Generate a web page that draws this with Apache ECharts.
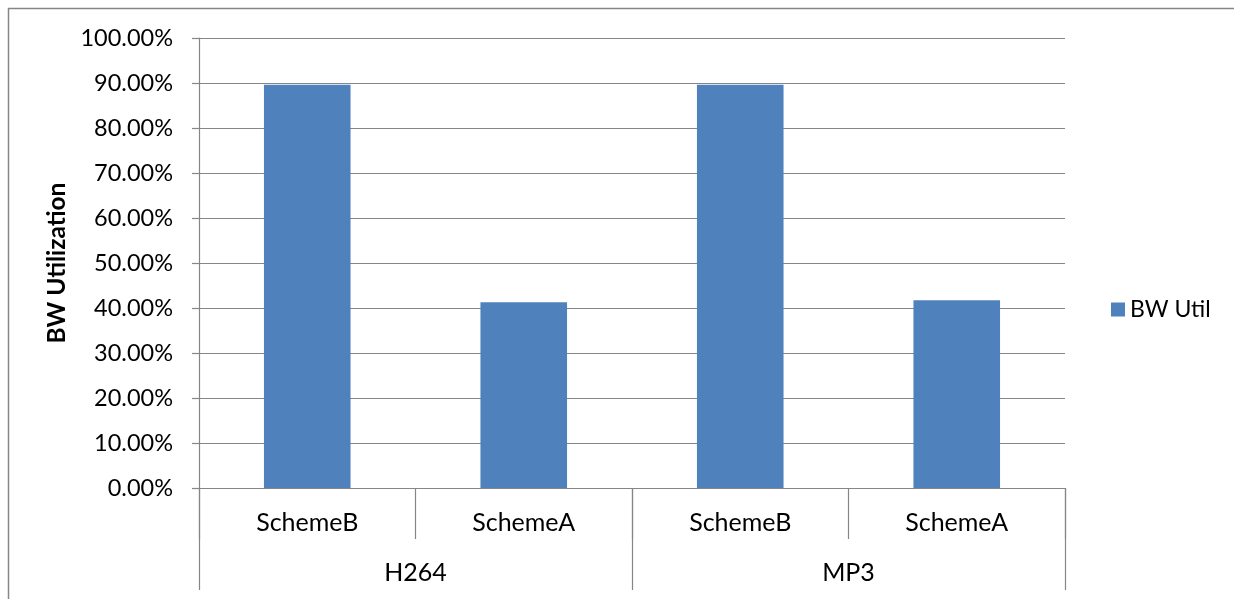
<!DOCTYPE html>
<html>
<head>
<meta charset="utf-8">
<script src="https://cdn.jsdelivr.net/npm/echarts@6/dist/echarts.min.js"></script>
<style>
  html, body { margin: 0; padding: 0; background: #fff; }
  #chart { width: 1234px; height: 599px; }
</style>
</head>
<body>
<div id="chart"></div>
<script>
// Bandwidth utilization per scheme, grouped by workload
const schemes = ['SchemeB', 'SchemeA', 'SchemeB', 'SchemeA'];
const workloads = ['H264', 'MP3'];
const bwUtil = [89.6, 41.3, 89.6, 41.7];
const seriesName = 'BW Util';
const yTicks = { min: 0, max: 100, interval: 10 };

const gray = '#868686';
const font = 'Lato, "Noto Sans", sans-serif';

const chart = echarts.init(document.getElementById('chart'));
chart.setOption({
  animation: false,
  backgroundColor: '#fff',
  grid: { left: 199, right: 169, top: 38, bottom: 111, containLabel: false },
  legend: {
    data: [seriesName],
    left: 1106,
    top: 293,
    orient: 'vertical',
    icon: 'rect',
    itemWidth: 14,
    itemHeight: 14,
    itemGap: 8,
    textStyle: { fontFamily: font, fontSize: 23, color: '#000' }
  },
  xAxis: [
    {
      type: 'category',
      data: schemes,
      position: 'bottom',
      axisLine: { show: true, lineStyle: { color: gray, width: 1.2 } },
      axisTick: { show: true, interval: 0, length: 51, lineStyle: { color: gray, width: 1.2 } },
      axisLabel: { interval: 0, margin: 22, fontFamily: font, fontSize: 25, color: '#000' },
      splitLine: { show: false }
    },
    {
      type: 'category',
      data: workloads,
      position: 'bottom',
      axisLine: { show: false },
      axisTick: { show: true, interval: 0, length: 102, lineStyle: { color: gray, width: 1.2 } },
      axisLabel: { interval: 0, margin: 72, fontFamily: font, fontSize: 25, color: '#000' },
      splitLine: { show: false }
    }
  ],
  yAxis: {
    type: 'value',
    min: yTicks.min,
    max: yTicks.max,
    interval: yTicks.interval,
    name: 'BW Utilization',
    nameLocation: 'middle',
    nameGap: 127,
    nameRotate: 90,
    nameTextStyle: { fontFamily: font, fontSize: 24.5, fontWeight: 'bold', color: '#000' },
    axisLine: { show: true, lineStyle: { color: gray, width: 1.2 } },
    axisTick: { show: true, length: 7, lineStyle: { color: gray, width: 1.2 } },
    axisLabel: {
      margin: 26,
      fontFamily: font,
      fontSize: 23.5,
      color: '#000',
      formatter: v => v.toFixed(2) + '%'
    },
    splitLine: { show: true, lineStyle: { color: gray, width: 1.2 } }
  },
  series: [
    {
      name: seriesName,
      type: 'bar',
      xAxisIndex: 0,
      data: bwUtil,
      barWidth: '40%',
      itemStyle: { color: '#4F81BD' }
    }
  ],
  graphic: [
    {
      type: 'polyline',
      shape: { points: [[8.5, 620], [8.5, 8.5], [1250, 8.5]] },
      style: { stroke: gray, lineWidth: 1.5, fill: null },
      silent: true
    }
  ]
});
</script>
</body>
</html>
